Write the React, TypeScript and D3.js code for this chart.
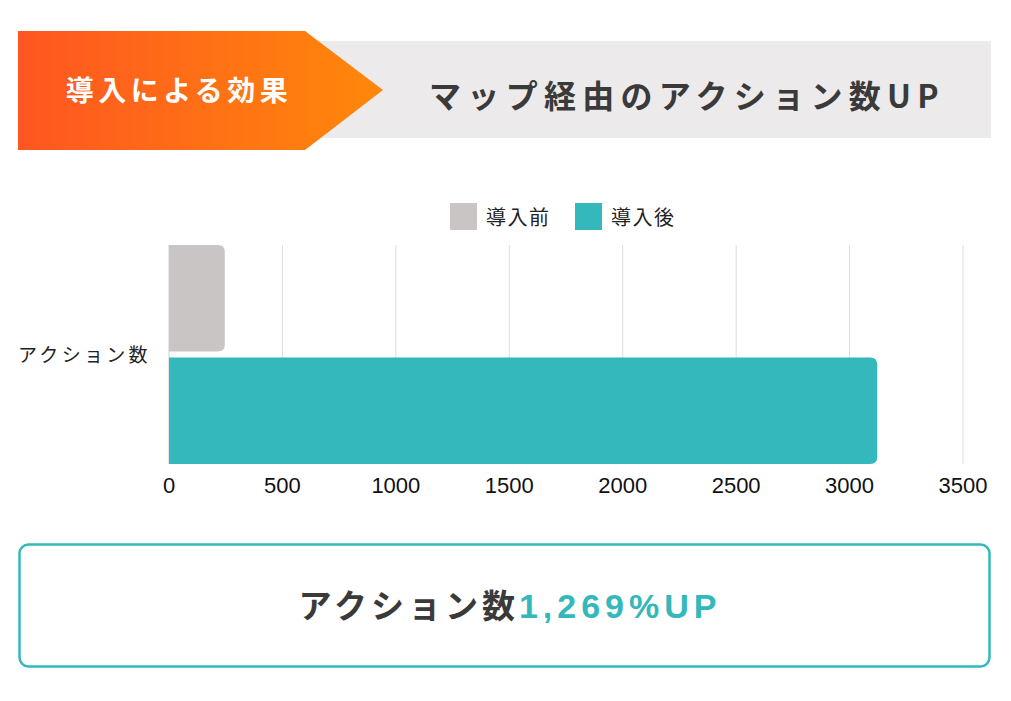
import React from "react";
import * as d3 from "d3";

const categories = ["アクション数"];
const seriesNames = ["導入前", "導入後"];
const beforeValues = [246];
const afterValues = [3122];
const xTicks = [0, 500, 1000, 1500, 2000, 2500, 3000, 3500];
const colors = ["#C9C5C5", "#34B8BB"];

const FONT = "'Noto Sans CJK JP', 'Noto Sans', sans-serif";
const LATIN = "'Liberation Sans', Arial, sans-serif";

function roundRightRect(x: number, y: number, w: number, h: number, r: number) {
  const rr = Math.min(r, w, h / 2);
  return `M${x},${y}H${x + w - rr}Q${x + w},${y} ${x + w},${y + rr}V${y + h - rr}Q${x + w},${y + h} ${x + w - rr},${y + h}H${x}Z`;
}

export default function App() {
  const W = 1011;
  const H = 701;
  const x = d3.scaleLinear().domain([0, 3500]).range([169, 963]);
  const y = d3.scaleBand().domain(categories).range([245, 464]).padding(0);
  const inner = d3.scaleBand().domain(seriesNames).range([0, y.bandwidth()]).paddingInner(0.055);
  const series = [beforeValues, afterValues];

  return (
    <svg width={W} height={H} style={{ position: "absolute", left: 0, top: 0, background: "#fff" }}>
      <defs>
        <linearGradient id="og" x1="0" x2="1" y1="0" y2="0">
          <stop offset="0" stopColor="#FE5621" />
          <stop offset="1" stopColor="#FF880A" />
        </linearGradient>
      </defs>
      {/* header */}
      <rect x={305} y={41} width={686} height={97} fill="#ECEAEB" />
      <path d="M18,31H305L383,90L305,150H18Z" fill="url(#og)" />
      <text x={179} y={101} textAnchor="middle" fill="#fff" fontFamily={FONT} fontWeight={700} fontSize={28} letterSpacing={4.5}>
        導入による効果
      </text>
      <text x={687} y={108} textAnchor="middle" fill="#3A3A3A" fontFamily={FONT} fontWeight={700} fontSize={32} letterSpacing={6.3}>
        マップ経由のアクション数UP
      </text>

      {/* legend */}
      {seriesNames.map((s, i) => {
        const lx = i === 0 ? 450 : 575;
        return (
          <g key={s}>
            <rect x={lx} y={203} width={27} height={27} fill={colors[i]} />
            <text x={lx + 36} y={225} fill="#222" fontFamily={FONT} fontSize={20} letterSpacing={1.5}>{s}</text>
          </g>
        );
      })}

      {/* grid */}
      {xTicks.map((t) => (
        <line key={t} x1={x(t)} x2={x(t)} y1={245} y2={464} stroke={t === 0 ? "#cfcfcf" : "#dedede"} strokeWidth={1} />
      ))}

      {/* bars */}
      {categories.map((c, ci) =>
        series.map((vals, si) => (
          <path
            key={c + si}
            d={roundRightRect(x(0), (y(c) as number) + (inner(seriesNames[si]) as number), x(vals[ci]) - x(0), inner.bandwidth(), 7)}
            fill={colors[si]}
          />
        ))
      )}

      {/* category labels */}
      {categories.map((c) => (
        <text key={c} x={18} y={(y(c) as number) + y.bandwidth() / 2 + 7} fill="#222" fontFamily={FONT} fontSize={19} letterSpacing={3.3}>{c}</text>
      ))}

      {/* tick labels */}
      {xTicks.map((t) => (
        <text key={t} x={x(t)} y={493} textAnchor="middle" fill="#111" fontFamily={LATIN} fontSize={22}>{t}</text>
      ))}

      {/* bottom box */}
      <rect x={19.5} y={544.5} width={970} height={122} rx={9} fill="#fff" stroke="#34B8BB" strokeWidth={2.5} />
      <text x={510} y={618} textAnchor="middle" fontFamily={FONT} fontWeight={700} fontSize={33} letterSpacing={4}>
        <tspan fill="#3A3A3A">アクション数</tspan>
        <tspan fill="#34B8BB" fontFamily={LATIN} fontSize={34} letterSpacing={5}>1,269%UP</tspan>
      </text>
    </svg>
  );
}
